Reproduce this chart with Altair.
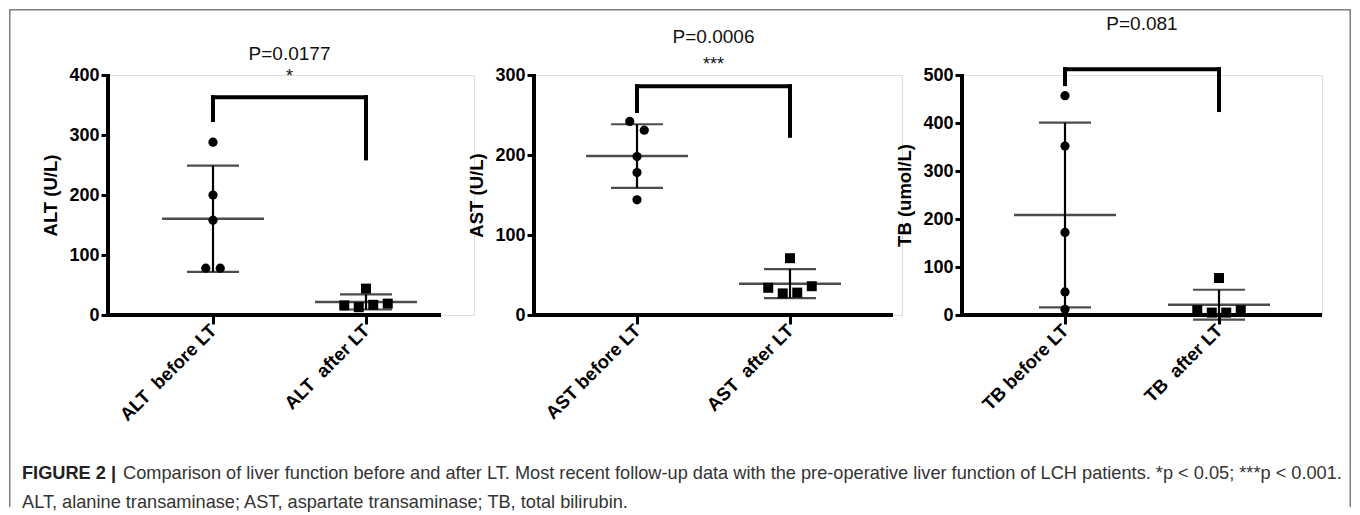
import altair as alt
import pandas as pd

# ---------------- data ----------------
alt_groups = ["ALT\u00a0 before LT", "ALT\u00a0 after LT"]
alt_before = [288, 200, 158, 78, 78]
alt_after = [44, 16, 13, 17, 19]

ast_groups = ["AST before LT", "AST\u00a0 after LT"]
ast_before = [242, 231, 198, 178, 144]
ast_after = [71, 34, 27, 28, 36]

tb_groups = ["TB before LT", "TB\u00a0 after LT"]
tb_before = [457, 352, 172, 48, 12]
tb_after = [77, 10, 5, 5, 10]

y_titles = ["ALT (U/L)", "AST (U/L)", "TB (umol/L)"]
y_max = [400, 300, 500]
y_tick_step = 100
p_labels = ["P=0.0177", "P=0.0006", "P=0.081"]
star_labels = ["*", "***", ""]

caption_bold = "FIGURE 2 |"
caption_line1 = ("Comparison of liver function before and after LT. Most recent follow-up data with the "
                 "pre-operative liver function of LCH patients. *p < 0.05; ***p < 0.001.")
caption_line2 = "ALT, alanine transaminase; AST, aspartate transaminase; TB, total bilirubin."

# ---------------- layout / style ----------------
PLOT_H = 240
FONT = "Liberation Sans"
LAYOUT = [
    dict(w=366, axis_len=333, c=(105, 258), bracket=(363, 325, 261), p_y=-21, star_y=2),
    dict(w=368, axis_len=359, c=(103, 256), bracket=(286, 255, 224), p_y=-38, star_y=-10),
    dict(w=360, axis_len=360, c=(103, 257), bracket=(512, 481, 427), p_y=-51, star_y=0),
]
SPACING = 60


def swarm(values, ymax, step_px=14.5, thresh_px=12):
    """Spread overlapping points sideways (like a column scatter)."""
    ppu = PLOT_H / ymax
    order = sorted(range(len(values)), key=lambda i: values[i])
    clusters = []
    for i in order:
        if clusters and any(abs(values[i] - values[j]) * ppu < thresh_px for j in clusters[-1]):
            clusters[-1].append(i)
        else:
            clusters.append([i])
    off = [0.0] * len(values)
    for cl in clusters:
        cl = sorted(cl)
        k = len(cl)
        for r, i in enumerate(cl):
            off[i] = (r - (k - 1) / 2) * step_px
    return off


one = pd.DataFrame({"a": [0]})


def bar(x0, x1, y0, y1, color="black"):
    """A straight line drawn as a thin filled rectangle (pixel coordinates)."""
    return alt.Chart(one).mark_rect(color=color, opacity=1).encode(
        x=alt.value(x0), x2=alt.value(x1), y=alt.value(y0), y2=alt.value(y1))


def panel(i, groups, before, after):
    lay = LAYOUT[i]
    ymax = y_max[i]
    w = lay["w"]
    c0, c1 = lay["c"]
    step = c1 - c0
    pad = (w / step - 1) / 2
    align = c0 / (w - step)
    df = pd.DataFrame({
        "group": [groups[0]] * len(before) + [groups[1]] * len(after),
        "value": before + after,
        "kind": ["before"] * len(before) + ["after"] * len(after),
        "off": swarm(before, ymax) + swarm(after, ymax),
    })
    xscale = alt.Scale(type="point", domain=groups, padding=pad, align=align)
    xaxis = alt.Axis(title=None, domain=False, grid=False, ticks=True, tickSize=9, tickWidth=3,
                     tickColor="black", labelAngle=-45, labelAlign="right",
                     labelBaseline="middle", labelFontSize=18.5, labelFontWeight="bold",
                     labelColor="black", labelPadding=3, labelLimit=400, labelFont=FONT)
    yscale = alt.Scale(domain=[0, ymax], nice=False, zero=True)
    yaxis = alt.Axis(title=y_titles[i], values=list(range(0, ymax + 1, y_tick_step)),
                     domain=False, ticks=True,
                     tickSize=7, tickWidth=3, tickColor="black", labelFontSize=18,
                     labelFontWeight="bold", labelColor="black", labelPadding=2,
                     labelFont=FONT, titleFont=FONT, titleFontSize=18.5,
                     titleFontWeight="bold", titleColor="black", titlePadding=8, grid=False)
    X = alt.X("group:N", scale=xscale, axis=xaxis)
    Y = alt.Y("value:Q", scale=yscale, axis=yaxis)
    XO = alt.XOffset("off:Q", scale=alt.Scale(domain=[-100, 100], range=[-100, 100]))

    base = alt.Chart(df)
    circles = base.transform_filter(alt.datum.kind == "before").mark_point(
        shape="circle", filled=True, color="black", opacity=1, size=85
    ).encode(x=X, xOffset=XO, y=Y)
    squares = base.transform_filter(alt.datum.kind == "after").mark_point(
        shape="square", filled=True, color="black", opacity=1, size=100
    ).encode(x=X, xOffset=XO, y=Y)

    # mean and mean ± SD, computed by Vega-Lite from the raw values
    stats = base.transform_aggregate(
        mean="mean(value)", sd="stdev(value)", groupby=["group"]
    ).transform_calculate(lo="datum.mean - datum.sd", hi="datum.mean + datum.sd")
    mean_tick = stats.mark_tick(orient="horizontal", thickness=2.5, size=102, color="black").encode(
        x=X, y=alt.Y("mean:Q", scale=yscale, axis=yaxis))
    sd_hi = stats.mark_tick(orient="horizontal", thickness=2.2, size=52, color="black").encode(
        x=X, y=alt.Y("hi:Q", scale=yscale, axis=yaxis))
    sd_lo = stats.mark_tick(orient="horizontal", thickness=2.2, size=52, color="black").encode(
        x=X, y=alt.Y("lo:Q", scale=yscale, axis=yaxis))
    sd_bar = stats.mark_rule(strokeWidth=2.2, color="black").encode(
        x=X, y=alt.Y("lo:Q", scale=yscale, axis=yaxis), y2="hi:Q")

    h, legl, legr = lay["bracket"]
    bdf = pd.DataFrame({
        "group": [groups[0], groups[0], groups[1]],
        "group2": [groups[1], groups[0], groups[1]],
        "value": [h, h, h],
        "value2": [h, legl, legr],
    })
    bracket = alt.Chart(bdf).mark_rule(strokeWidth=4, color="black", strokeCap="square").encode(
        x=X, x2="group2:N", y=Y, y2="value2:Q")

    xline = bar(-2, lay["axis_len"], PLOT_H - 2, PLOT_H + 2)
    yline = bar(-2, 2, -1, PLOT_H + 2)

    mid = (c0 + c1) / 2
    ptext = alt.Chart(one).mark_text(text=p_labels[i], fontSize=19, font=FONT, color="#111",
                                     align="center", baseline="middle").encode(
        x=alt.value(mid), y=alt.value(lay["p_y"]))
    layers = [sd_bar, sd_hi, sd_lo, mean_tick, circles, squares, bracket, xline, yline, ptext]
    if star_labels[i]:
        stext = alt.Chart(one).mark_text(text=star_labels[i], fontSize=18, font=FONT, color="#111",
                                         align="center", baseline="middle").encode(
            x=alt.value(mid), y=alt.value(lay["star_y"]))
        layers.append(stext)
    return layers


p1 = panel(0, alt_groups, alt_before, alt_after)
p2 = panel(1, ast_groups, ast_before, ast_after)
p3 = panel(2, tb_groups, tb_before, tb_after)

FX0, FX1, FY0, FY1 = -99, 1243, -66, 432
frame_col = "#7f7f7f"
frame = [
    bar(FX0, FX0 + 1.5, FY0, FY1, frame_col),
    bar(FX1 - 1.5, FX1, FY0, FY1, frame_col),
    bar(FX0, FX1, FY0, FY0 + 1.5, frame_col),
]
CAP_FS = 18.2
cap = [
    alt.Chart(one).mark_text(text=caption_bold, fontSize=CAP_FS, fontWeight="bold", font=FONT,
                             color="#222", align="left", baseline="alphabetic").encode(
        x=alt.value(-86), y=alt.value(404)),
    alt.Chart(one).mark_text(text=caption_line1, fontSize=CAP_FS, font=FONT, color="#333",
                             align="left", baseline="alphabetic").encode(
        x=alt.value(15), y=alt.value(404)),
    alt.Chart(one).mark_text(text=caption_line2, fontSize=CAP_FS, font=FONT, color="#333",
                             align="left", baseline="alphabetic").encode(
        x=alt.value(-86), y=alt.value(433)),
]

c1 = alt.layer(*(frame + p1 + cap)).properties(width=LAYOUT[0]["w"], height=PLOT_H)
c2 = alt.layer(*p2).properties(width=LAYOUT[1]["w"], height=PLOT_H)
c3 = alt.layer(*p3).properties(width=LAYOUT[2]["w"], height=PLOT_H)

chart = alt.hconcat(c1, c2, c3, spacing=SPACING, bounds="flush").properties(
    padding=0
).configure_view(strokeWidth=0, stroke="transparent").configure_axis(
    grid=False, domain=False
).configure(font=FONT)

chart.save("out.html", embed_options={"renderer": "svg", "actions": False})
